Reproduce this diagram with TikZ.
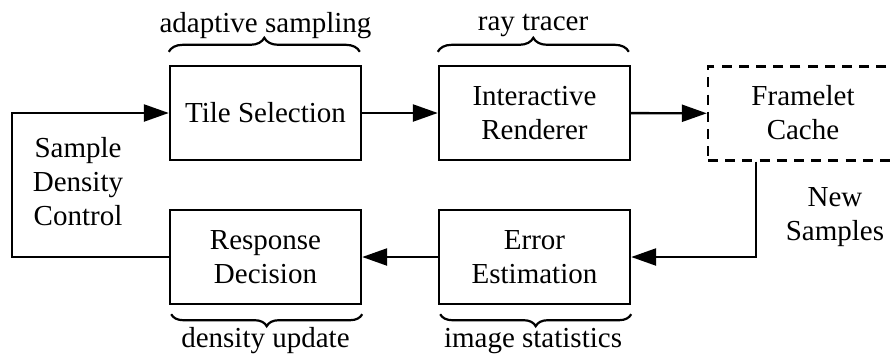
\documentclass[tikz,border=0pt]{standalone}
\usepackage{fontspec}
\setmainfont{Liberation Serif}
\newfontfamily\diagramfont{Liberation Serif}
\usetikzlibrary{arrows.meta,decorations.pathreplacing}
\begin{document}
\begin{tikzpicture}[x=0.5pt,y=-0.5pt,
  every node/.style={font=\diagramfont\fontsize{14.5}{17}\selectfont, align=center},
  block/.style={draw, line width=1.2pt, minimum width=95.5pt, minimum height=47pt, inner sep=0pt},
  dashblock/.style={draw, line width=1.2pt, minimum width=120pt, minimum height=47pt, inner sep=0pt, dash pattern=on 5pt off 3.6pt},
  flow/.style={line width=1.2pt, -{Triangle[length=12.5pt,width=8.5pt]}},
  bracetop/.style={line width=1.1pt, decorate, decoration={brace, amplitude=7pt}},
  bracebottom/.style={line width=1.1pt, decorate, decoration={brace, amplitude=6pt}},
  label/.style={inner sep=0pt}]
  \useasboundingbox (0,0) rectangle (894,354);

  % processing blocks
  \node[block] (tile) at (265.5,113) {Tile Selection};
  \node[block] (rend) at (534.5,113) {Interactive\\Renderer};
  \node[block] (resp) at (265.5,257) {Response\\Decision};
  \node[block] (err) at (534.5,257) {Error\\Estimation};
  % the cache box runs off the right-hand edge
  \node[dashblock] (cache) at (828,113.5) {};
  \node[label] (cachetext) at (803,113) {Framelet\\Cache};

  % side labels
  \node[label] (sdc) at (78,182) {Sample\\Density\\Control};
  \node[label] (ns) at (835,217) {New\\Samples};

  % braces and their captions
  \draw[bracetop] (tile.north west) ++(0,-13) coordinate (tb1) -- ++(191,0) coordinate (tb2);
  \node[label, anchor=base] (adapt) at (265.5,32) {adaptive sampling};
  \draw[bracetop] (rend.north west) ++(0,-13) coordinate (rb1) -- ++(191,0) coordinate (rb2);
  \node[label, anchor=base] (rt) at (533,30) {ray tracer};
  \draw[bracebottom] (resp.south east) ++(0,9) coordinate (db1) -- ++(-191,0) coordinate (db2);
  \node[label, anchor=base] (du) at (265.5,347) {density update};
  \draw[bracebottom] (err.south east) ++(0,9) coordinate (eb1) -- ++(-191,0) coordinate (eb2);
  \node[label, anchor=base] (is) at (533,347) {image statistics};

  % connectors
  \coordinate (loopx) at (12,185);
  \coordinate (dropx) at (756,200);
  \draw[flow] (tile) -- (rend);
  \draw[flow] (rend) -- (cache);
  \draw[flow] (cache.south -| dropx) |- (err.east);
  \draw[flow] (err) -- (resp);
  \draw[flow] (resp.west) -- (resp.west -| loopx) |- (tile.west);
\end{tikzpicture}
\end{document}
